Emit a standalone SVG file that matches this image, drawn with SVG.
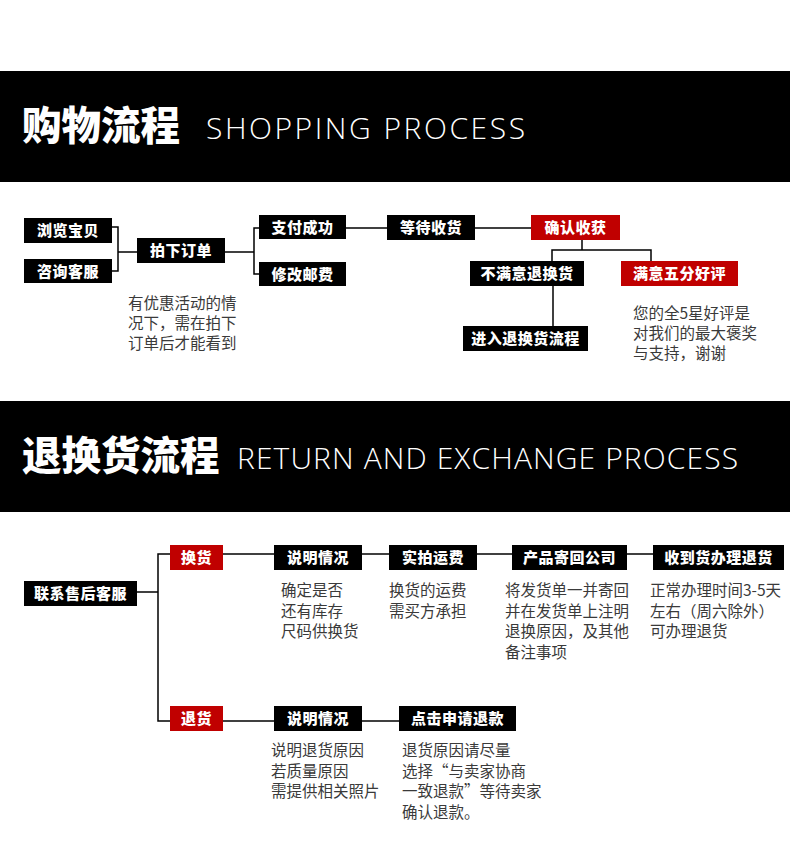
<svg xmlns="http://www.w3.org/2000/svg" width="790" height="850" viewBox="0 0 790 850">
<style>
.band{fill:#000}
.box{fill:#000}
.red{fill:#c00000}
.lbl{font-family:"Noto Sans CJK SC","Noto Sans",sans-serif;font-weight:900;font-size:15px;fill:#fff;text-anchor:middle;letter-spacing:0.5px}
.note{font-family:"Noto Sans CJK SC","Noto Sans",sans-serif;font-size:15.5px;fill:#3a3a3a}
.h-cn{font-family:"Noto Sans CJK SC",sans-serif;font-weight:900;font-size:39.5px;fill:#fff}
.h-en{font-family:"Open Sans","Noto Sans",sans-serif;font-weight:300;font-size:30px;fill:#fff}
.conn path{fill:none;stroke:#000;stroke-width:1.5}
</style>
<rect width="790" height="850" fill="#fff"/>

<g id="header-shopping">
<rect class="band" x="0" y="71" width="790" height="111"/>
<text class="h-cn" x="22" y="140">购物流程</text>
<text class="h-en" x="206" y="139" textLength="319" lengthAdjust="spacing">SHOPPING PROCESS</text>
</g>

<g id="header-return">
<rect class="band" x="0" y="401" width="790" height="111"/>
<text class="h-cn" x="22" y="470">退换货流程</text>
<text class="h-en" x="237" y="469" textLength="501" lengthAdjust="spacing">RETURN AND EXCHANGE PROCESS</text>
</g>

<g class="conn" id="connectors">
<path d="M112 227 H118 V271 H112"/>
<path d="M118 252 H137"/>
<path d="M225 252 H254"/>
<path d="M259 228 H254 V274 H259"/>
<path d="M346 228 H387"/>
<path d="M475 228 H531"/>
<path d="M582 240 V250"/>
<path d="M552 261 V250 H651 V261"/>
<path d="M553 286 V326"/>
<path d="M137 592 H158"/>
<path d="M170 554 H158 V721 H170"/>
<path d="M223 554 H274"/>
<path d="M362 554 H389"/>
<path d="M477 554 H512"/>
<path d="M627 554 H653"/>
<path d="M223 721 H274"/>
<path d="M362 721 H399"/>
</g>

<g id="n-browse"><rect class="box" x="24" y="218" width="88" height="25"/><text class="lbl" x="68" y="236">浏览宝贝</text></g>
<g id="n-consult"><rect class="box" x="24" y="259" width="88" height="24"/><text class="lbl" x="68" y="277">咨询客服</text></g>
<g id="n-order"><rect class="box" x="137" y="238" width="88" height="25"/><text class="lbl" x="181" y="256">拍下订单</text></g>
<g id="n-paid"><rect class="box" x="259" y="215" width="87" height="24"/><text class="lbl" x="302.5" y="233">支付成功</text></g>
<g id="n-postage"><rect class="box" x="259" y="262" width="87" height="24"/><text class="lbl" x="302.5" y="280">修改邮费</text></g>
<g id="n-wait"><rect class="box" x="387" y="215" width="88" height="25"/><text class="lbl" x="431" y="233">等待收货</text></g>
<g id="n-confirm"><rect class="red" x="531" y="215" width="89" height="25"/><text class="lbl" x="575.5" y="233">确认收获</text></g>
<g id="n-unhappy"><rect class="box" x="470" y="261" width="114" height="25"/><text class="lbl" x="527" y="279">不满意退换货</text></g>
<g id="n-happy"><rect class="red" x="621" y="261" width="117" height="25"/><text class="lbl" x="679.5" y="279">满意五分好评</text></g>
<g id="n-enter"><rect class="box" x="463" y="326" width="125" height="25"/><text class="lbl" x="525.5" y="344">进入退换货流程</text></g>

<g id="note-order">
<text class="note" x="128" y="309">有优惠活动的情</text>
<text class="note" x="128" y="329">况下，需在拍下</text>
<text class="note" x="128" y="349">订单后才能看到</text>
</g>
<g id="note-happy">
<text class="note" x="633" y="319">您的全5星好评是</text>
<text class="note" x="633" y="339">对我们的最大褒奖</text>
<text class="note" x="633" y="359">与支持，谢谢</text>
</g>

<g id="n-service"><rect class="box" x="24" y="581" width="113" height="25"/><text class="lbl" x="80.5" y="599">联系售后客服</text></g>
<g id="n-exchange"><rect class="red" x="170" y="545" width="53" height="25"/><text class="lbl" x="196.5" y="563">换货</text></g>
<g id="n-explain1"><rect class="box" x="274" y="545" width="88" height="25"/><text class="lbl" x="318" y="563">说明情况</text></g>
<g id="n-shipping"><rect class="box" x="389" y="545" width="88" height="25"/><text class="lbl" x="433" y="563">实拍运费</text></g>
<g id="n-sendback"><rect class="box" x="512" y="545" width="115" height="25"/><text class="lbl" x="569.5" y="563">产品寄回公司</text></g>
<g id="n-receive"><rect class="box" x="653" y="545" width="131" height="25"/><text class="lbl" x="718.5" y="563">收到货办理退货</text></g>
<g id="n-refund"><rect class="red" x="170" y="706" width="53" height="25"/><text class="lbl" x="196.5" y="724">退货</text></g>
<g id="n-explain2"><rect class="box" x="274" y="706" width="88" height="25"/><text class="lbl" x="318" y="724">说明情况</text></g>
<g id="n-apply"><rect class="box" x="399" y="706" width="117" height="25"/><text class="lbl" x="457.5" y="724">点击申请退款</text></g>

<g id="note-explain1">
<text class="note" x="281" y="596">确定是否</text>
<text class="note" x="281" y="616.5">还有库存</text>
<text class="note" x="281" y="637">尺码供换货</text>
</g>
<g id="note-shipping">
<text class="note" x="389" y="596">换货的运费</text>
<text class="note" x="389" y="616.5">需买方承担</text>
</g>
<g id="note-sendback">
<text class="note" x="505" y="596">将发货单一并寄回</text>
<text class="note" x="505" y="616.5">并在发货单上注明</text>
<text class="note" x="505" y="637">退换原因，及其他</text>
<text class="note" x="505" y="657.5">备注事项</text>
</g>
<g id="note-receive">
<text class="note" x="650" y="596">正常办理时间3-5天</text>
<text class="note" x="650" y="616.5">左右（周六除外）</text>
<text class="note" x="650" y="637">可办理退货</text>
</g>
<g id="note-explain2">
<text class="note" x="271" y="756">说明退货原因</text>
<text class="note" x="271" y="776.5">若质量原因</text>
<text class="note" x="271" y="797">需提供相关照片</text>
</g>
<g id="note-apply">
<text class="note" x="402" y="756">退货原因请尽量</text>
<text class="note" x="402" y="776.5">选择“与卖家协商</text>
<text class="note" x="402" y="797">一致退款”等待卖家</text>
<text class="note" x="402" y="817.5">确认退款。</text>
</g>
</svg>
